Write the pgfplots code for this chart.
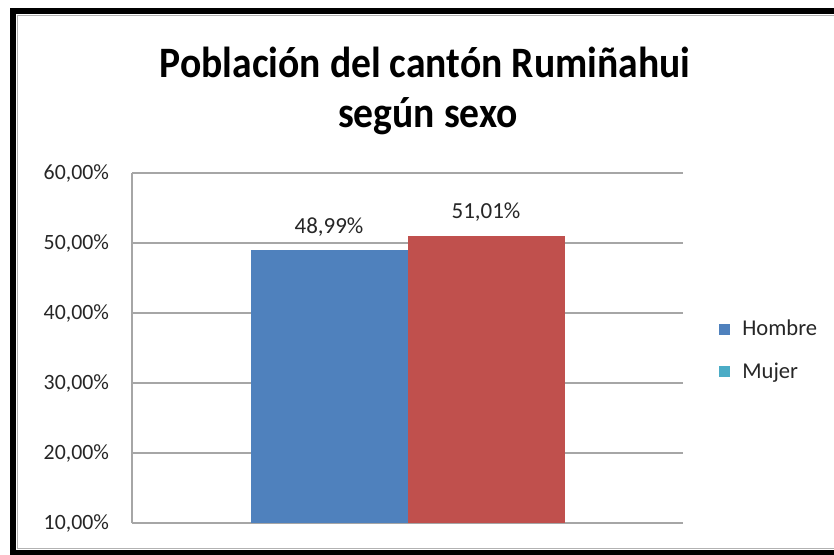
\documentclass[border=0pt]{standalone}
\usepackage{fontspec}
\setmainfont{Carlito}
\newfontfamily\titlefont[FakeStretch=0.913]{Carlito}
\usepackage{pgfplots}
\pgfplotsset{compat=1.18}

\definecolor{hblue}{RGB}{79,129,189}
\definecolor{mred}{RGB}{192,80,77}
\definecolor{mteal}{RGB}{75,172,198}
\definecolor{gridgray}{RGB}{166,166,166}

\begin{document}
\begin{tikzpicture}
\useasboundingbox (0,0) rectangle (417pt,277pt);
% outer frame (right side cut off in the original)
\draw[line width=3pt] (420pt,271.5pt) -- (6.5pt,271.5pt) -- (6.5pt,0.75pt) -- (420pt,0.75pt);
\draw[gray!60, line width=0.6pt] (420pt,269.4pt) -- (8.6pt,269.4pt) -- (8.6pt,2.8pt) -- (420pt,2.8pt);

\node[anchor=base, font=\titlefont\fontsize{21.7}{26}\selectfont\bfseries] at (212.5pt,238.5pt) {Población del cantón Rumiñahui};
\node[anchor=base, font=\titlefont\fontsize{21.7}{26}\selectfont\bfseries] at (214pt,213.5pt) {según sexo};

\begin{axis}[
  at={(66pt,15.5pt)}, anchor=south west,
  width=275.5pt, height=175pt, scale only axis,
  xmin=0, xmax=2, ymin=10, ymax=60,
  xtick=\empty,
  ytick={10,20,30,40,50,60},
  axis x line=none,
  axis y line*=left,
  y axis line style={draw=gridgray, line width=0.9pt},
  major tick length=0pt,
  ymajorgrids,
  grid style={draw=gridgray, line width=0.9pt},
  /pgf/number format/assume math mode=true,
  yticklabel={\pgfmathprintnumber[fixed,fixed zerofill,precision=2,use comma]{\tick}\%},
  yticklabel style={font=\fontsize{10.9}{13}\selectfont, text=black!85, xshift=-8pt},
  ybar, bar width=78.5pt,
  point meta=y,
  nodes near coords={\pgfmathprintnumber[fixed,fixed zerofill,precision=2,use comma]{\pgfplotspointmeta}\%},
  every node near coord/.append style={font=\fontsize{11.5}{13}\selectfont, text=black!85, yshift=3.5pt},
  legend style={at={(1.0653,0.493)}, anchor=west, draw=none, fill=none, inner sep=0pt,
    font=\fontsize{11.3}{13}\selectfont, text=black!85, row sep=8pt,
    /tikz/every odd column/.append style={column sep=4pt}},
  legend cell align=left,
]
\addplot[fill=hblue, draw=none, bar shift=-39.25pt,
  legend image code/.code={\fill[hblue] (0pt,-2.75pt) rectangle (5.5pt,2.75pt);}]
  coordinates {(1,48.99)};
\addplot[fill=mred, draw=none, bar shift=39.25pt,
  legend image code/.code={\fill[mteal] (0pt,-2.75pt) rectangle (5.5pt,2.75pt);}]
  coordinates {(1,51.01)};
\legend{Hombre, Mujer}
\end{axis}
\end{tikzpicture}
\end{document}
